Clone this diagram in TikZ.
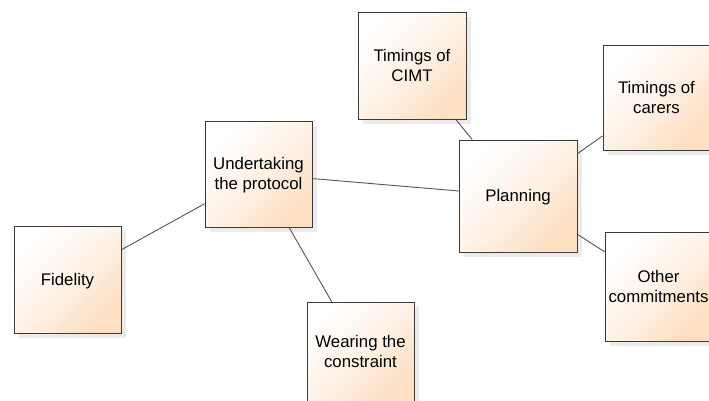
\documentclass[tikz,border=0pt]{standalone}
\usepackage{fontspec}
\setmainfont{Liberation Sans}
\usetikzlibrary{positioning, shadows}

\definecolor{boxpeach}{HTML}{FDDFC2}
\definecolor{boxline}{HTML}{3A3A3A}
\definecolor{linkgray}{HTML}{555555}

\begin{document}
\begin{tikzpicture}[
        x=1pt, y=-1pt,
        concept/.style={rectangle, draw=boxline, line width=0.9pt, shading=axis,
            top color=white, bottom color=boxpeach, middle color=boxpeach!40, shading angle=45,
            minimum width=107pt, minimum height=107pt, inner sep=0pt, text depth=1pt,
            align=center, font=\fontsize{16.8}{20}\selectfont,
            drop shadow={shadow xshift=5pt, shadow yshift=-5pt, opacity=0.08, fill=black}},
        link/.style={draw=linkgray, line width=0.9pt},
    ]
        \clip (0,0) rectangle (709,400);

        % Draw the concept boxes
        \node[concept] (fidelity) at (67.5,279.5) {Fidelity};
        \node[concept, minimum height=106pt] (protocol) at (258.5,174) {Undertaking\\the protocol};
        \node[concept, minimum height=100pt] (wearing) at (360.5,352) {Wearing the\\constraint};
        \node[concept, minimum width=108pt] (cimt) at (412,65.5) {Timings of\\CIMT};
        \node[concept, minimum width=118pt, minimum height=112pt] (planning) at (518,196) {Planning};
        \node[concept, minimum height=105pt] (carers) at (656.5,97.5) {Timings of\\carers};
        \node[concept, minimum height=109pt] (other) at (658.5,286.5) {Other\\commitments};

        % Connect the boxes
        \foreach \source / \dest in {fidelity/protocol, protocol/planning, protocol/wearing,
                                     cimt/planning, planning/carers, planning/other}
            \path (\source) edge[link] (\dest);
\end{tikzpicture}
\end{document}
